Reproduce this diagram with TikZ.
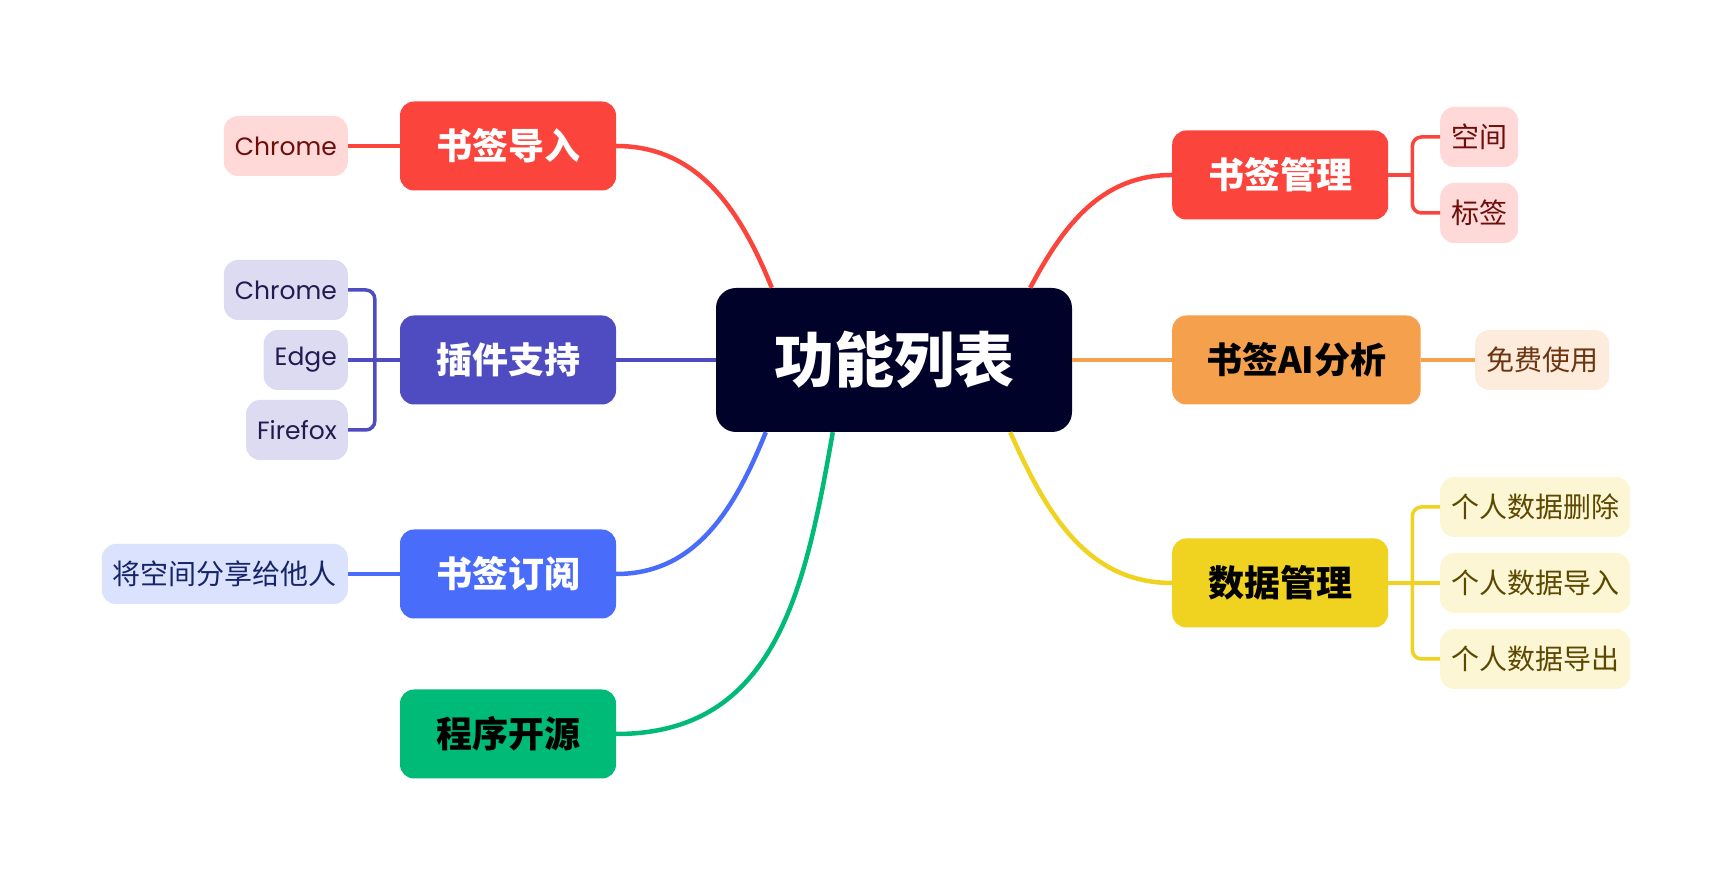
\documentclass[tikz,border=0pt]{standalone}
\usepackage{fontspec}
\setmainfont{Noto Sans CJK SC}
\newfontfamily\latinfont{Poppins}
\definecolor{rootbg}{HTML}{000229}
\definecolor{bred}{HTML}{FA443C}
\definecolor{bpurple}{HTML}{4F4BC0}
\definecolor{bblue}{HTML}{4A6CFA}
\definecolor{bgreen}{HTML}{00BA78}
\definecolor{borange}{HTML}{F5A04C}
\definecolor{byellow}{HTML}{F0D321}
\definecolor{lred}{HTML}{FFD9D8}
\definecolor{tred}{HTML}{6E0E0B}
\definecolor{lpurple}{HTML}{DCDBF2}
\definecolor{tpurple}{HTML}{1F1C4F}
\definecolor{lblue}{HTML}{DAE2FD}
\definecolor{tblue}{HTML}{16246A}
\definecolor{lorange}{HTML}{FDEBDB}
\definecolor{torange}{HTML}{6A3510}
\definecolor{lyellow}{HTML}{FCF6D4}
\definecolor{tyellow}{HTML}{5C4800}
\tikzset{
  rootbox/.style={fill=rootbg, text=white, rounded corners=20pt,
    minimum width=356pt, minimum height=144pt,
    font=\fontsize{60}{70}\selectfont\bfseries},
  mainbox/.style={fill=#1, rounded corners=14pt, minimum width=216pt,
    minimum height=89pt, inner xsep=34pt,
    font=\fontsize{36}{42}\selectfont\bfseries},
  leafbox/.style={fill=#1, rounded corners=14pt, minimum height=60pt,
    inner xsep=11pt, font=\fontsize{28}{32}\selectfont},
  latinleaf/.style={font=\fontsize{25}{30}\selectfont\latinfont},
  link/.style={draw=#1, line width=4.5pt},
  sublink/.style={draw=#1, line width=3.5pt, rounded corners=9pt},
}
\begin{document}
\begin{tikzpicture}[x=1pt,y=1pt]
    \useasboundingbox (0,0) rectangle (1732,880);
    %% root
    \node[rootbox] (root) at (894,520) {功能列表};
    %% left branches
    \node[mainbox=bred, text=white] (import) at (508,734) {书签导入};
    \node[mainbox=bpurple, text=white] (plugin) at (508,520) {插件支持};
    \node[mainbox=bblue, text=white] (subscribe) at (508,306) {书签订阅};
    \node[mainbox=bgreen, text=black] (opensrc) at (508,146) {程序开源};
    %% right branches
    \node[mainbox=bred, text=white, anchor=west] (manage) at (1172,705) {书签管理};
    \node[mainbox=borange, text=black, anchor=west] (ai) at (1172,520) {书签AI分析};
    \node[mainbox=byellow, text=black, anchor=west] (data) at (1172,297) {数据管理};
    %% left leaves
    \node[leafbox=lred, latinleaf, text=tred, anchor=east] (chromea) at (348,734) {Chrome};
    \node[leafbox=lpurple, latinleaf, text=tpurple, anchor=east] (chromeb) at (348,590) {Chrome};
    \node[leafbox=lpurple, latinleaf, text=tpurple, anchor=east] (edge) at (348,520) {Edge};
    \node[leafbox=lpurple, latinleaf, text=tpurple, anchor=east] (firefox) at (348,450) {Firefox};
    \node[leafbox=lblue, text=tblue, anchor=east] (share) at (348,306) {将空间分享给他人};
    %% right leaves
    \node[leafbox=lred, text=tred, anchor=west] (space) at (1440,743) {空间};
    \node[leafbox=lred, text=tred, anchor=west] (tag) at (1440,667) {标签};
    \node[leafbox=lorange, text=torange, anchor=west] (free) at (1475,520) {免费使用};
    \node[leafbox=lyellow, text=tyellow, anchor=west] (deldata) at (1440,373) {个人数据删除};
    \node[leafbox=lyellow, text=tyellow, anchor=west] (impdata) at (1440,297) {个人数据导入};
    \node[leafbox=lyellow, text=tyellow, anchor=west] (expdata) at (1440,221) {个人数据导出};
    %% root links
    \draw[link=bred] ([xshift=56pt]root.north west) to[out=112,in=0] (import.east);
    \draw[link=bpurple] (root.west) -- (plugin.east);
    \draw[link=bblue] ([xshift=50pt]root.south west) to[out=-112,in=0] (subscribe.east);
    \draw[link=bgreen] ([xshift=117pt]root.south west) to[out=-100,in=0,looseness=1.1] (opensrc.east);
    \draw[link=bred] ([xshift=-42pt]root.north east) to[out=62,in=180] (manage.west);
    \draw[link=borange] (root.east) -- (ai.west);
    \draw[link=byellow] ([xshift=-62pt]root.south east) to[out=-66,in=180] (data.west);
    %% leaf links
    \draw[sublink=bred] (import.west) -- (chromea.east);
    \draw[sublink=bpurple] (plugin.west) -- (edge.east);
    \draw[sublink=bpurple] (chromeb.east) -| ([xshift=-25pt]plugin.west) |- (firefox.east);
    \draw[sublink=bblue] (subscribe.west) -- (share.east);
    \draw[sublink=bred] (space.west) -| ([xshift=24pt]manage.east) |- (tag.west);
    \draw[sublink=bred] (manage.east) -- ++(24,0);
    \draw[sublink=borange] (ai.east) -- (free.west);
    \draw[sublink=byellow] (data.east) -- (impdata.west);
    \draw[sublink=byellow] (deldata.west) -| ([xshift=24pt]data.east) |- (expdata.west);
\end{tikzpicture}
\end{document}
